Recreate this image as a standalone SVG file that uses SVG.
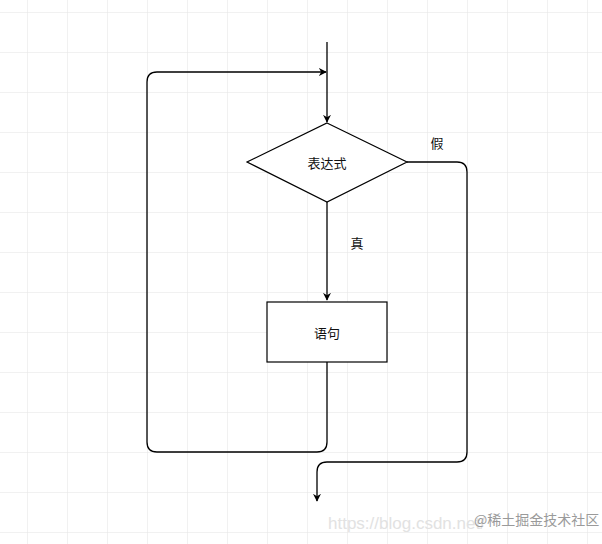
<svg xmlns="http://www.w3.org/2000/svg" width="602" height="544" viewBox="0 0 602 544">
<defs>
<pattern id="grid" x="27" y="12" width="40" height="40" patternUnits="userSpaceOnUse">
<path d="M0 0H40M0 0V40" fill="none" stroke="#e4e4e4" stroke-width="1"/>
</pattern>
<marker id="arr" viewBox="0 0 10 10" refX="9" refY="5" markerWidth="8" markerHeight="8" markerUnits="userSpaceOnUse" orient="auto">
<path d="M0 0L10 5L0 10L3 5Z" fill="#000"/>
</marker>
<style>
.ln{fill:none;stroke:#000;stroke-width:1.3}
.nd{fill:#fff;stroke:#000;stroke-width:1.2}
.t{font-family:"Noto Sans CJK SC","Noto Sans",sans-serif;font-size:13px;fill:#111;text-anchor:middle;dominant-baseline:central}
</style>
</defs>
<rect width="602" height="544" fill="#fff"/>
<rect width="602" height="544" fill="url(#grid)"/>
<g id="connectors">
<path class="ln" d="M327 42V122" stroke="#666" marker-end="url(#arr)"/>
<path class="ln" d="M327 202V300" marker-end="url(#arr)"/>
<path class="ln" d="M327 362V442Q327 452 317 452H157Q147 452 147 442V82Q147 72 157 72H326" marker-end="url(#arr)"/>
<path class="ln" d="M407 162H457Q467 162 467 172V452Q467 462 457 462H327Q317 462 317 472V501" marker-end="url(#arr)"/>
</g>
<g id="cond">
<polygon class="nd" points="327,123 407,162 327,202 247,162"/>
<text class="t" x="327" y="162">表达式</text>
</g>
<g id="stmt">
<rect class="nd" x="267" y="302" width="120" height="60"/>
<text class="t" x="327" y="332">语句</text>
</g>
<g id="labels">
<text class="t" x="437" y="142">假</text>
<text class="t" x="357" y="242">真</text>
</g>
<g id="watermark">
<text x="328" y="529" font-family="Liberation Sans,sans-serif" font-size="17" fill="#e2e2e2">https://blog.csdn.net/</text>
<text x="474" y="525" font-family="Noto Sans CJK SC,sans-serif" font-size="14" fill="#9a9a9a">@稀土掘金技术社区</text>
</g>
</svg>
